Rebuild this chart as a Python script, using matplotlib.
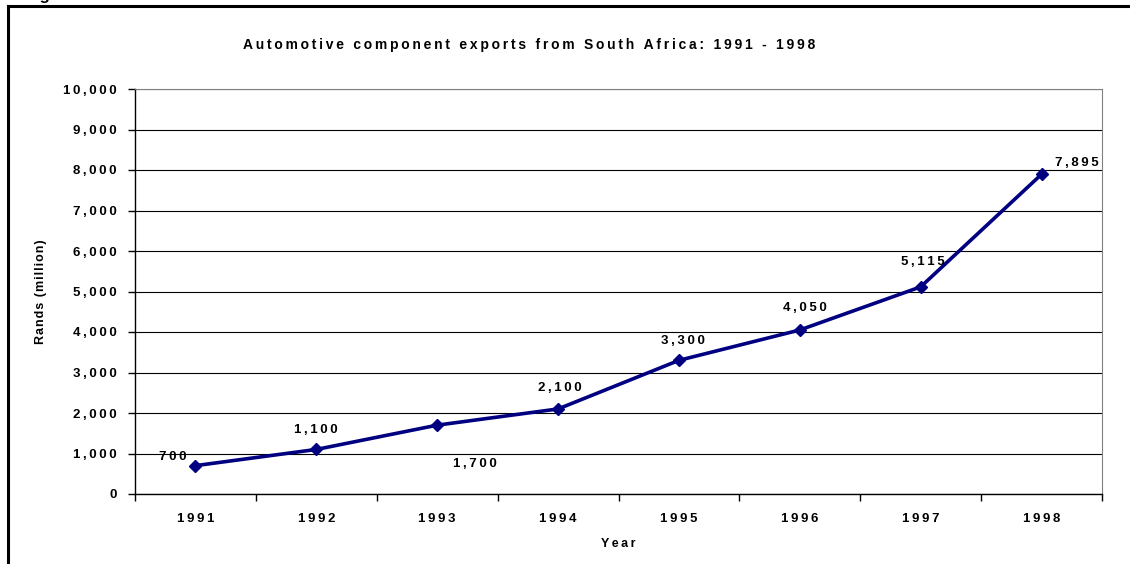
import matplotlib.pyplot as plt
from matplotlib.ticker import FuncFormatter

# Automotive component exports from South Africa
years = ['1991', '1992', '1993', '1994', '1995', '1996', '1997', '1998']
exports = [700, 1100, 1700, 2100, 3300, 4050, 5115, 7895]
# where each value label sits relative to its point (pixels)
label_offsets = [(-23, 9), (0, 19), (38, -39), (2, 21), (4, 19), (5, 22), (2, 25), (35, 11)]

plt.rcParams['font.family'] = ['Liberation Sans', 'DejaVu Sans']

def spaced(s):
    # the original uses wide letter spacing
    return '\u2009'.join(s)

fig = plt.figure(figsize=(11.3, 5.64), dpi=100)
ax = fig.add_axes([135 / 1130, 1 - 494 / 564, 967 / 1130, 405 / 564])

x = list(range(len(years)))
ax.plot(x, exports, color='#000080', linewidth=2.6, marker='D', markersize=6,
        markerfacecolor='#000080', zorder=3, clip_on=False)

px = 72 / 100
for xi, v, (dx, dy) in zip(x, exports, label_offsets):
    ax.annotate(spaced(f'{v:,}'), xy=(xi, v), xytext=(dx * px, dy * px),
                textcoords='offset points', ha='center', va='center',
                fontsize=9.5, fontweight='bold')

ax.set_xlim(-0.5, len(years) - 0.5)
ax.set_ylim(0, 10000)
ax.set_yticks(range(0, 10001, 1000))
ax.yaxis.set_major_formatter(FuncFormatter(lambda v, p: spaced(f'{int(v):,}')))
ax.set_xticks(x)
ax.set_xticklabels([spaced(y) for y in years])
ax.set_xticks([i + 0.5 for i in range(-1, len(years))], minor=True)
ax.tick_params(axis='x', which='major', length=0, pad=14)
ax.tick_params(axis='x', which='minor', length=5, width=1)
ax.tick_params(axis='y', length=5, width=1, pad=8)
for lab in ax.get_xticklabels() + ax.get_yticklabels():
    lab.set_fontweight('bold')
    lab.set_fontsize(9.5)

ax.grid(axis='y', color='black', linewidth=0.8)
ax.set_axisbelow(True)
for side in ['top', 'right']:
    ax.spines[side].set_color('#808080')
for side in ['left', 'bottom']:
    ax.spines[side].set_color('black')
    ax.spines[side].set_linewidth(1)

ax.set_xlabel(spaced('Year'), fontsize=9, fontweight='bold', labelpad=9)
ax.set_ylabel('\u200a'.join('Rands (million)'), fontsize=9, fontweight='bold', labelpad=12)
fig.text(0.468, 1 - 45 / 564, spaced('Automotive component exports from South Africa: 1991 - 1998'),
         ha='center', va='center', fontsize=10, fontweight='bold')

# page caption, mostly cut off at the top edge as in the original
fig.text(25 / 1130, 1.0, 'Figure 3:', ha='left', va='baseline', fontsize=12, fontweight='bold')

# outer frame of the figure box
fig.add_artist(plt.Line2D([8 / 1130, 8 / 1130], [0, 1 - 6 / 564], color='black', linewidth=2.2))
fig.add_artist(plt.Line2D([8 / 1130, 1], [1 - 6 / 564, 1 - 6 / 564], color='black', linewidth=2.2))

fig.savefig('out.png', dpi=100)
